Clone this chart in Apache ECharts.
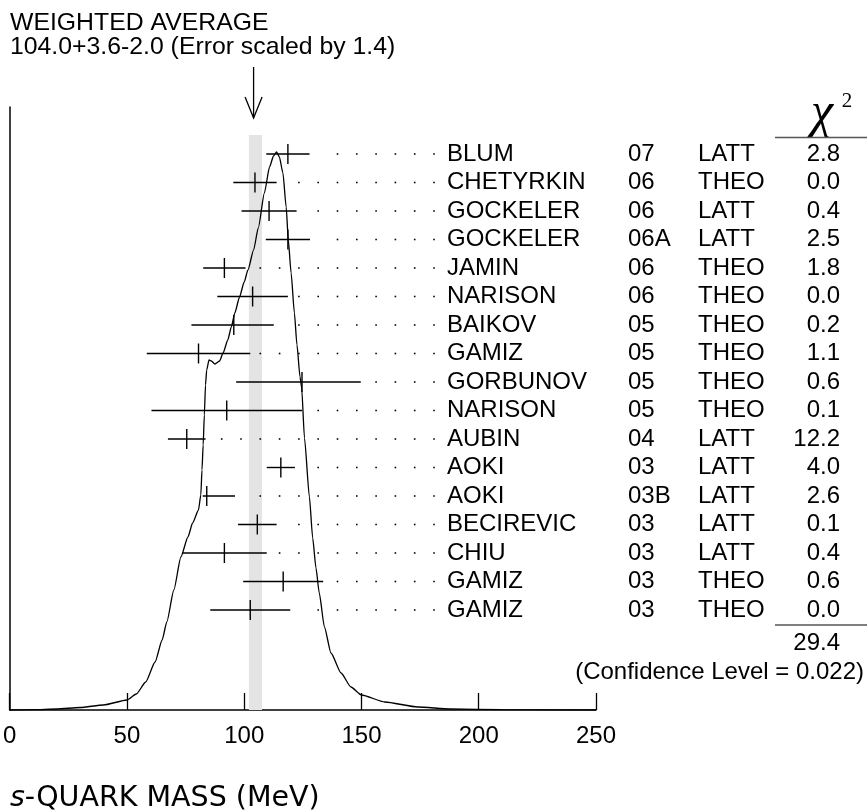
<!DOCTYPE html>
<html>
<head>
<meta charset="utf-8">
<script src="https://cdn.jsdelivr.net/npm/echarts@6/dist/echarts.min.js"></script>
<style>
html, body { margin: 0; padding: 0; background: #fff; }
#chart { width: 867px; height: 812px; }
</style>
</head>
<body>
<div id="chart"></div>
<script>
// measurements, top to bottom
const names = ['BLUM', 'CHETYRKIN', 'GOCKELER', 'GOCKELER', 'JAMIN', 'NARISON', 'BAIKOV', 'GAMIZ', 'GORBUNOV', 'NARISON', 'AUBIN', 'AOKI', 'AOKI', 'BECIREVIC', 'CHIU', 'GAMIZ', 'GAMIZ']
const years = ['07', '06', '06', '06A', '06', '06', '05', '05', '05', '05', '04', '03', '03B', '03', '03', '03', '03']
const kinds = ['LATT', 'THEO', 'LATT', 'LATT', 'THEO', 'THEO', 'THEO', 'THEO', 'THEO', 'THEO', 'LATT', 'LATT', 'LATT', 'LATT', 'LATT', 'THEO', 'THEO']
const chi2 = ['2.8', '0.0', '0.4', '2.5', '1.8', '0.0', '0.2', '1.1', '0.6', '0.1', '12.2', '4.0', '2.6', '0.1', '0.4', '0.6', '0.0']
const values = [119, 105, 111, 119, 92, 104, 96, 81, 125, 93, 76, 116, 84.5, 106, 92, 117, 103]
const errMinus = [9.2, 9.2, 11.7, 9.4, 9, 15, 18, 22, 28, 32, 8, 6, 1.7, 8.2, 18, 17, 17]
const errPlus = [9.2, 9.2, 11.7, 9.4, 9, 15, 17, 22, 25, 32, 8, 6, 12, 8.2, 18, 17, 17]

// ideogram curve (arbitrary height units)
const curveX = [0, 10, 20, 30, 40, 50, 54, 58, 62, 65, 67, 70, 73, 76, 78, 80.5, 81.5, 82, 82.5, 83, 83.5, 84, 85, 86, 87.5, 89.5, 91, 93, 94.5, 96, 98, 100, 101.6, 104, 106, 108.6, 110.8, 112.5, 113.8, 115, 116.5, 117.9, 118.8, 120, 121.4, 122.5, 123.8, 124.5, 125.7, 127.8, 129.2, 130.6, 132, 134.2, 137, 141.3, 145.5, 150, 160, 174, 188, 210, 250]
const curveY = [0, 0.3, 1, 2.5, 5, 10, 16, 28, 48, 70, 88, 120, 153, 173, 187, 200, 215, 240, 265, 295, 325, 340, 350, 349, 346, 349, 357, 370, 383, 397, 413, 428, 440, 460, 482, 517, 543, 554, 558, 553, 537, 503, 470, 437, 397, 365, 333, 322, 272, 213, 172, 142, 117, 83, 57, 37, 23, 15, 8, 3, 1, 0.3, 0]

// weighted average
const avg = 104.0
const avgPlus = 3.6
const avgMinus = 2.0
const errScale = 1.4
const chi2Total = '29.4'
const confLevel = '0.022'

const font = '"Liberation Sans", Arial, Helvetica, sans-serif'
const serif = '"Liberation Serif", "DejaVu Serif", serif'
const labelShift = 149 // name column sits this far left of the axis end
const bandTop = 575

const chart = echarts.init(document.getElementById('chart'))

function renderBar (params, api) {
  const row = api.value(0)
  const c = api.coord([api.value(1), row])
  const l = api.coord([api.value(2), row])
  const r = api.coord([api.value(3), row])
  const y = c[1]
  const kids = [
    { type: 'line', shape: { x1: l[0], y1: y, x2: r[0], y2: y }, style: { stroke: '#000', lineWidth: 1.4 } },
    { type: 'line', shape: { x1: c[0], y1: y - 10, x2: c[0], y2: y + 10 }, style: { stroke: '#000', lineWidth: 1.4 } }
  ]
  // dotted leader towards the name
  const end = api.coord([250, row])[0] - labelShift - 13
  for (let x = end; x > r[0] + 10; x -= 19.3) {
    kids.push({ type: 'rect', shape: { x: x - 0.8, y: y - 0.8, width: 1.6, height: 1.6 }, style: { fill: '#000' } })
  }
  return { type: 'group', children: kids }
}

chart.setOption({
  animation: false,
  grid: [
    { left: 8, right: 271, top: 107, bottom: 102 },
    { left: 8, right: 271, top: 139.75, bottom: 187.75 }
  ],
  xAxis: [
    {
      gridIndex: 0,
      type: 'value',
      min: 0,
      max: 250,
      interval: 50,
      axisLine: { show: true, onZero: false, lineStyle: { color: '#000', width: 1.5 } },
      axisTick: { show: true, inside: true, length: 17, lineStyle: { color: '#000', width: 1.3 } },
      axisLabel: { color: '#000', fontFamily: font, fontSize: 24, margin: 14, showMinLabel: true, showMaxLabel: true },
      splitLine: { show: false }
    },
    { gridIndex: 1, type: 'value', min: 0, max: 250, show: false }
  ],
  yAxis: [
    {
      gridIndex: 0,
      type: 'value',
      min: 0,
      max: 603,
      axisLine: { show: true, lineStyle: { color: '#000', width: 1.5 } },
      axisTick: { show: false },
      axisLabel: { show: false },
      splitLine: { show: false }
    },
    {
      gridIndex: 1,
      type: 'category',
      data: names.map((n, i) => String(i)),
      inverse: true,
      position: 'right',
      offset: -labelShift,
      axisLine: { show: false },
      axisTick: { show: false },
      splitLine: { show: false },
      axisLabel: {
        margin: 0,
        interval: 0,
        formatter: (v, i) => `{n|${names[i]}}{y|${years[i]}}{t|${kinds[i]}}{c|${chi2[i]}}`,
        rich: {
          n: { width: 181, fontSize: 24, fontFamily: font, color: '#000' },
          y: { width: 70, fontSize: 24, fontFamily: font, color: '#000' },
          t: { width: 82, fontSize: 24, fontFamily: font, color: '#000' },
          c: { width: 60, align: 'right', fontSize: 24, fontFamily: font, color: '#000' }
        }
      }
    }
  ],
  series: [
    {
      type: 'line',
      xAxisIndex: 0,
      yAxisIndex: 0,
      data: curveX.map((x, i) => [x, curveY[i]]),
      showSymbol: false,
      smooth: 0.2,
      smoothMonotone: 'x',
      silent: true,
      z: 3,
      lineStyle: { color: '#000', width: 1.3 },
      markArea: {
        silent: true,
        itemStyle: { color: '#e4e4e4' },
        data: [[{ xAxis: avg - avgMinus, yAxis: bandTop }, { xAxis: avg + avgPlus, yAxis: 0 }]]
      }
    },
    {
      type: 'custom',
      xAxisIndex: 1,
      yAxisIndex: 1,
      z: 4,
      clip: false,
      silent: true,
      renderItem: renderBar,
      encode: { y: 0, x: [1, 2, 3] },
      data: values.map((v, i) => [i, v, v - errMinus[i], v + errPlus[i]])
    }
  ]
})

const ax = chart.convertToPixel({ xAxisIndex: 0 }, avg)
const txt = (x, y, text, extra) => ({
  type: 'text',
  x: x,
  y: y,
  style: Object.assign({ text: text, fill: '#000', fontSize: 24, fontFamily: font, verticalAlign: 'middle', align: 'left' }, extra || {})
})

chart.setOption({
  graphic: [
    txt(10, 23.5, 'WEIGHTED AVERAGE', { fontSize: 24.8 }),
    txt(10, 47, `${avg.toFixed(1)}+${avgPlus.toFixed(1)}-${avgMinus.toFixed(1)} (Error scaled by ${errScale})`, { fontSize: 24.8 }),
    { type: 'line', shape: { x1: ax, y1: 67, x2: ax, y2: 118 }, style: { stroke: '#000', lineWidth: 1.3 } },
    { type: 'polyline', shape: { points: [[ax - 8.5, 97], [ax, 118], [ax + 8.5, 97]] }, style: { stroke: '#000', lineWidth: 1.3, fill: null } },
    txt(822, 114, 'χ', { fontSize: 50, fontFamily: serif, fontStyle: 'italic', align: 'center' }),
    txt(847, 101, '2', { fontSize: 21, fontFamily: serif, align: 'center' }),
    { type: 'line', shape: { x1: 775, y1: 137.5, x2: 867, y2: 137.5 }, style: { stroke: '#555', lineWidth: 1.5 } },
    { type: 'line', shape: { x1: 775, y1: 625, x2: 867, y2: 625 }, style: { stroke: '#555', lineWidth: 1.5 } },
    txt(840, 643, chi2Total, { align: 'right' }),
    txt(864, 672, `(Confidence Level = ${confLevel})`, { align: 'right' }),
    {
      type: 'text',
      x: 10,
      y: 799,
      style: {
        text: '{i|s}{n|-QUARK MASS (MeV)}',
        verticalAlign: 'middle',
        rich: {
          i: { fontSize: 28.5, fontStyle: 'italic', fontFamily: '"DejaVu Sans", sans-serif', fill: '#000' },
          n: { fontSize: 28.5, fontFamily: '"DejaVu Sans", sans-serif', fill: '#000' }
        }
      }
    }
  ]
})
</script>
</body>
</html>
